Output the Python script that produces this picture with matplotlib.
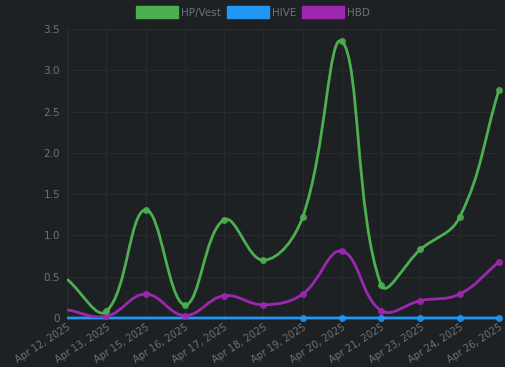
import numpy as np
import matplotlib
matplotlib.use('Agg')
import matplotlib.pyplot as plt
from matplotlib.path import Path
from matplotlib.patches import PathPatch, Patch

dates = ['Apr 12, 2025', 'Apr 13, 2025', 'Apr 15, 2025', 'Apr 16, 2025',
         'Apr 17, 2025', 'Apr 18, 2025', 'Apr 19, 2025', 'Apr 20, 2025',
         'Apr 21, 2025', 'Apr 23, 2025', 'Apr 24, 2025', 'Apr 26, 2025']
hp_vest = [0.47, 0.08, 1.31, 0.16, 1.19, 0.70, 1.22, 3.35, 0.40, 0.83, 1.22, 2.76]
hive = [0.0, 0.0, 0.0, 0.0, 0.0, 0.0, 0.0, 0.0, 0.0, 0.0, 0.0, 0.0]
hbd = [0.10, 0.02, 0.29, 0.03, 0.27, 0.16, 0.29, 0.81, 0.09, 0.21, 0.29, 0.68]

bg = '#1e2124'
grid_c = '#272b2e'
text_c = '#707375'
colors = {'HP/Vest': '#4caf50', 'HIVE': '#2196f3', 'HBD': '#9c27b0'}

# pixel scale of the plot area, used for the chart.js style spline
px_x = 39.3
px_y = 82.6


def spline_path(xs, ys, t=0.4):
    X = np.array(xs, float) * px_x
    Y = np.array(ys, float) * px_y
    n = len(X)
    cps = []
    for i in range(n):
        p = np.array([X[i], Y[i]])
        prev = np.array([X[i - 1], Y[i - 1]]) if i > 0 else p
        nxt = np.array([X[i + 1], Y[i + 1]]) if i < n - 1 else p
        d01 = np.hypot(*(p - prev))
        d12 = np.hypot(*(nxt - p))
        tot = d01 + d12
        s01 = d01 / tot if tot else 0
        s12 = d12 / tot if tot else 0
        cp1 = p - t * s01 * (nxt - prev)
        cp2 = p + t * s12 * (nxt - prev)
        cps.append((cp1, cp2))
    verts = [(X[0] / px_x, Y[0] / px_y)]
    codes = [Path.MOVETO]
    for i in range(n - 1):
        c1 = cps[i][1]
        c2 = cps[i + 1][0]
        verts += [(c1[0] / px_x, c1[1] / px_y), (c2[0] / px_x, c2[1] / px_y),
                  (X[i + 1] / px_x, Y[i + 1] / px_y)]
        codes += [Path.CURVE4] * 3
    return Path(verts, codes)


fig = plt.figure(figsize=(5.06, 3.67), dpi=100, facecolor=bg)
ax = fig.add_axes([0.1324, 0.1335, 0.8536, 0.7875], facecolor=bg)

x = np.arange(len(dates))
series = [('HP/Vest', hp_vest, 1), ('HIVE', hive, 6), ('HBD', hbd, 1)]
for name, vals, start in [series[1], series[2], series[0]]:
    c = colors[name]
    ax.add_patch(PathPatch(spline_path(x, vals), facecolor='none', edgecolor=c,
                           lw=2, zorder=3, clip_on=(name != 'HIVE')))
    ax.plot(x[start:], vals[start:], 'o', color=c, ms=5, zorder=4, clip_on=False,
            markeredgewidth=0, alpha=0.9)

ax.set_xlim(0, len(dates) - 1)
ax.set_ylim(0, 3.5)
ax.set_yticks([0, 0.5, 1.0, 1.5, 2.0, 2.5, 3.0, 3.5])
ax.set_yticklabels(['0', '0.5', '1.0', '1.5', '2.0', '2.5', '3.0', '3.5'])
ax.set_xticks(x)
ax.set_xticklabels(dates, rotation=33, ha='right', rotation_mode='anchor')
ax.tick_params(axis='y', labelsize=7.5, length=0, pad=5)
ax.tick_params(axis='x', labelsize=7, length=0, pad=3)
for lbl in ax.get_xticklabels() + ax.get_yticklabels():
    lbl.set_color(text_c)
ax.grid(True, color=grid_c, lw=0.8)
for s in ax.spines.values():
    s.set_visible(False)
ax.axvline(0, color='#2e3236', lw=1, zorder=1)

handles = [Patch(facecolor=colors[n], edgecolor=colors[n], label=n) for n in colors]
fig.legend(handles=handles, loc='upper center', bbox_to_anchor=(0.5, 1.008), ncol=3,
           frameon=False, fontsize=7.5, handlelength=4.0, handleheight=1.3,
           handletextpad=0.3, columnspacing=0.6, labelcolor=text_c)

fig.savefig('out.png', dpi=100, facecolor=bg)
